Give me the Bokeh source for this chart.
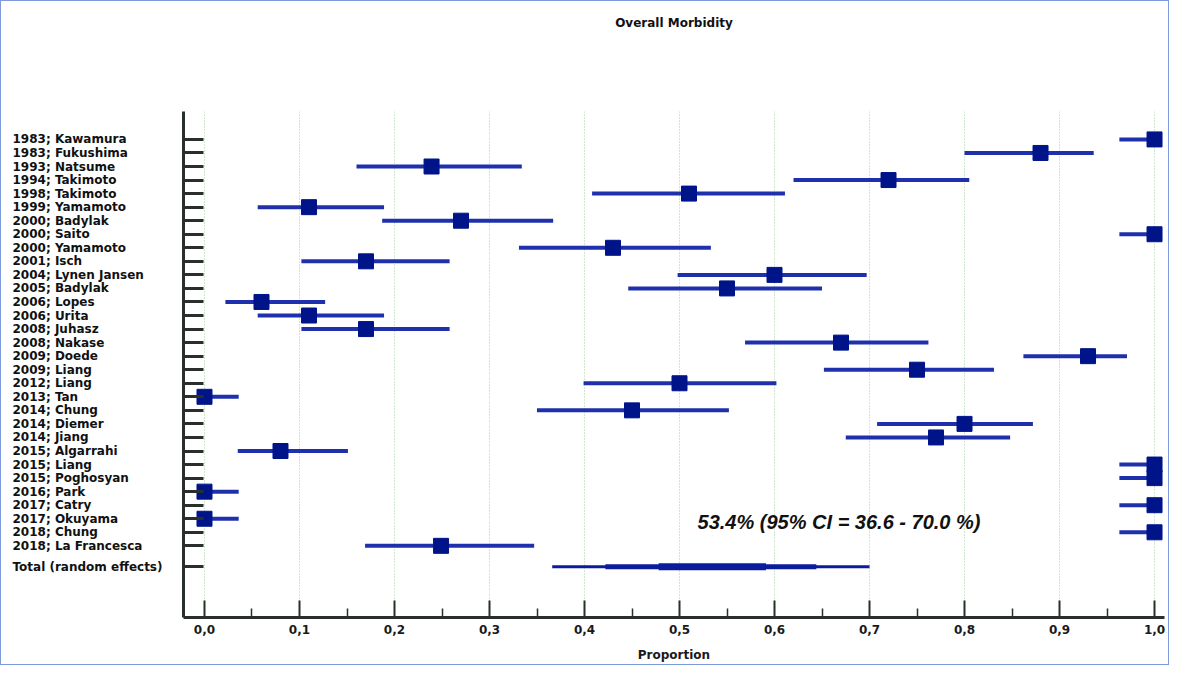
from bokeh.plotting import figure
from bokeh.layouts import row
from bokeh.models import (Range1d, FixedTicker, Label, ColumnDataSource,
                          CustomLabelingPolicy, LinearAxis)
from bokeh.core.properties import value
from bokeh.embed import file_html
from bokeh.resources import INLINE

# ---------------- data ----------------
studies = [
    "1983; Kawamura", "1983; Fukushima", "1993; Natsume", "1994;  Takimoto",
    "1998; Takimoto", "1999; Yamamoto", "2000; Badylak", "2000; Saito",
    "2000; Yamamoto", "2001; Isch", "2004; Lynen Jansen", "2005; Badylak",
    "2006; Lopes", "2006; Urita", "2008; Juhasz", "2008; Nakase",
    "2009; Doede", "2009; Liang", "2012; Liang", "2013; Tan",
    "2014; Chung", "2014; Diemer", "2014; Jiang", "2015; Algarrahi",
    "2015; Liang", "2015; Poghosyan", "2016; Park", "2017; Catry",
    "2017; Okuyama", "2018; Chung", "2018; La Francesca",
]
estimate = [1.00, 0.88, 0.239, 0.72, 0.51, 0.11, 0.27, 1.00, 0.43, 0.17,
            0.60, 0.55, 0.06, 0.11, 0.17, 0.67, 0.93, 0.75, 0.50, 0.00,
            0.45, 0.80, 0.77, 0.08, 1.00, 1.00, 0.00, 1.00, 0.00, 1.00, 0.249]
lower = [0.963, 0.800, 0.160, 0.620, 0.408, 0.056, 0.187, 0.963, 0.331, 0.102,
         0.498, 0.446, 0.022, 0.056, 0.102, 0.569, 0.862, 0.652, 0.399, 0.000,
         0.350, 0.708, 0.675, 0.035, 0.963, 0.963, 0.000, 0.963, 0.000, 0.963, 0.169]
upper = [1.000, 0.936, 0.334, 0.805, 0.611, 0.189, 0.367, 1.000, 0.533, 0.258,
         0.697, 0.650, 0.127, 0.189, 0.258, 0.762, 0.971, 0.831, 0.602, 0.036,
         0.552, 0.872, 0.848, 0.151, 1.000, 1.000, 0.036, 1.000, 0.036, 1.000, 0.347]

total_label = "Total (random effects)"
total_estimate = 0.534
total_outer = [0.366, 0.700]
total_middle = [0.422, 0.644]
total_inner = [0.478, 0.591]
total_ci_pct = [36.6, 70.0]

x_ticks = [0.0, 0.1, 0.2, 0.3, 0.4, 0.5, 0.6, 0.7, 0.8, 0.9, 1.0]
x_tick_labels = ["0,0", "0,1", "0,2", "0,3", "0,4", "0,5", "0,6", "0,7", "0,8", "0,9", "1,0"]

title_text = "Overall Morbidity"
x_label = "Proportion"

# ---------------- layout ----------------
rows = list(range(len(studies)))
total_row = 31.54
LINE_C = "#1f30ad"
MARK_C = "#00148a"
TOTAL_C = "#0b1c9c"
AXIS_C = "#2b2f2b"
FONT = "DejaVu Sans"
TXT_C = "#111111"

W, H = 1167, 663
LAB_W = 172
MAIN_W = W - LAB_W
TOP, BOTTOM = 110, 45
yr = Range1d(35.29, -2.06)

# main plot
p = figure(width=MAIN_W, height=H, output_backend="svg", toolbar_location=None,
           x_range=Range1d(-0.0221, 1.0105), y_range=yr,
           min_border_left=10, min_border_right=4, min_border_top=TOP,
           min_border_bottom=BOTTOM)
p.outline_line_color = None
p.background_fill_color = "white"
p.border_fill_color = "white"

# chart title, drawn as the label of a bare axis above the frame
top_axis = LinearAxis(ticker=FixedTicker(ticks=[]), axis_line_color=None,
                      major_tick_line_color=None, minor_tick_line_color=None,
                      major_tick_out=0, minor_tick_out=0, major_label_standoff=0,
                      axis_label=title_text, axis_label_standoff=82,
                      axis_label_text_font=FONT, axis_label_text_font_style="bold",
                      axis_label_text_font_size="12px", axis_label_text_color=TXT_C)
p.add_layout(top_axis, "above")

# grid
p.ygrid.grid_line_color = None
p.xgrid.ticker = FixedTicker(ticks=x_ticks)
p.xgrid.grid_line_color = "#9ccc98"
p.xgrid.grid_line_dash = "1 2"
p.xgrid.grid_line_width = 1

# x axis
xa = p.below[0]
xa.ticker = FixedTicker(ticks=x_ticks,
                        minor_ticks=[(a + b) / 2 for a, b in zip(x_ticks[:-1], x_ticks[1:])])
xa.major_label_overrides = {t: l for t, l in zip(x_ticks, x_tick_labels)}
xa.axis_line_width = 3
xa.axis_line_color = AXIS_C
xa.major_tick_in = 17
xa.major_tick_out = 0
xa.major_tick_line_width = 2
xa.major_tick_line_color = AXIS_C
xa.minor_tick_in = 9
xa.minor_tick_out = 0
xa.minor_tick_line_width = 1.5
xa.minor_tick_line_color = AXIS_C
xa.major_label_text_font = FONT
xa.major_label_text_font_style = "bold"
xa.major_label_text_font_size = "12px"
xa.major_label_text_color = "#1a1a1a"
xa.major_label_standoff = 7
xa.axis_label = x_label
xa.axis_label_text_font = FONT
xa.axis_label_text_font_style = "bold"
xa.axis_label_text_font_size = "12px"
xa.axis_label_text_color = "#1a1a1a"
xa.axis_label_standoff = 11

# y axis: ticks only (names are in the left text column)
ya = p.yaxis[0]
ya.ticker = FixedTicker(ticks=rows + [total_row])
ya.axis_line_width = 3
ya.axis_line_color = AXIS_C
ya.major_tick_in = 20
ya.major_tick_out = 0
ya.major_tick_line_width = 3
ya.major_tick_line_color = AXIS_C
ya.minor_tick_line_color = None
ya.major_label_standoff = 0
ya.major_label_text_font_size = "0px"
ya.major_label_policy = CustomLabelingPolicy(
    code="for (const i of Array.from(indices)) { indices.unset(i) }\nreturn indices")

# study confidence intervals and estimates
src = ColumnDataSource(dict(y=rows, est=estimate, lo=lower, hi=upper, name=studies))
p.segment(x0="lo", x1="hi", y0="y", y1="y", source=src, line_color=LINE_C, line_width=4)
p.scatter(x="est", y="y", source=src, marker="square", size=15,
          fill_color=MARK_C, line_color=MARK_C, line_width=1)

# total (random effects)
p.segment(x0=[total_outer[0]], x1=[total_outer[1]], y0=[total_row], y1=[total_row],
          line_color=TOTAL_C, line_width=3)
p.segment(x0=[total_middle[0]], x1=[total_middle[1]], y0=[total_row], y1=[total_row],
          line_color=TOTAL_C, line_width=5)
p.segment(x0=[total_inner[0]], x1=[total_inner[1]], y0=[total_row], y1=[total_row],
          line_color=TOTAL_C, line_width=7)

# pooled annotation
ann = f"{total_estimate*100:.1f}% (95% CI = {total_ci_pct[0]:.1f} - {total_ci_pct[1]:.1f} %)"
p.add_layout(Label(x=0.519, y=28.25, text=ann, text_align="left", text_baseline="middle",
                   text_font="Liberation Sans", text_font_style="bold italic",
                   text_font_size="20px", text_color=TXT_C))

# left column with study names (shares the row scale of the main plot)
lab = figure(width=LAB_W, height=H, output_backend="svg", toolbar_location=None,
             x_range=Range1d(0, LAB_W), y_range=yr,
             x_axis_location=None, y_axis_location=None,
             min_border_left=0, min_border_right=0,
             min_border_top=TOP, min_border_bottom=BOTTOM)
lab.outline_line_color = None
lab.xgrid.grid_line_color = None
lab.ygrid.grid_line_color = None
lab.background_fill_color = "white"
lab.border_fill_color = "white"

names = studies + [total_label]
name_rows = rows + [total_row]
lab.text(x=[11] * len(names), y=name_rows, text=names, text_align="left",
         text_baseline="middle", text_font=value(FONT), text_font_style="bold",
         text_font_size="12px", text_color=TXT_C)

layout = row(lab, p)
layout.styles = {"border": "1px solid #7d9bdc"}

open("out.html", "w").write(file_html(layout, INLINE))
